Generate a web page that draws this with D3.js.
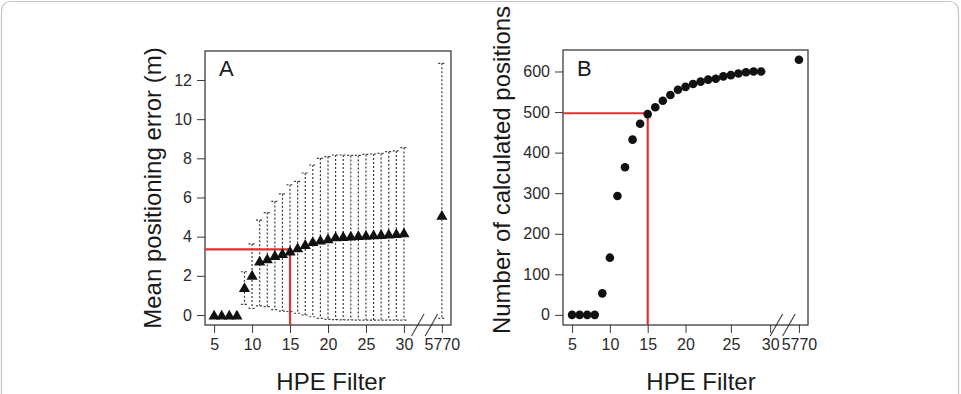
<!DOCTYPE html>
<html>
<head>
<meta charset="utf-8">
<script src="https://cdn.jsdelivr.net/npm/d3@7/dist/d3.min.js"></script>
<style>
  body { margin: 0; background: #fff; }
  svg { display: block; font-family: "Liberation Sans", Arial, Helvetica, sans-serif; }
</style>
</head>
<body>
<div id="chart"></div>
<script>
// HPE filter values (5770 = no filter, drawn after the axis break)
const hpeFilter = [5, 6, 7, 8, 9, 10, 11, 12, 13, 14, 15, 16, 17, 18, 19, 20,
  21, 22, 23, 24, 25, 26, 27, 28, 29, 30, 5770];

// Panel A: mean positioning error (m) with error bar ends
const meanError = [0, 0, 0, 0, 1.41, 2.04, 2.76, 2.88, 3.05, 3.15, 3.27, 3.44,
  3.61, 3.76, 3.83, 3.9, 4.0, 4.02, 4.04, 4.06, 4.08, 4.1, 4.12, 4.14, 4.17, 4.2, 5.1];
const errorUpper = [0, 0, 0, 0, 2.21, 3.63, 4.84, 5.23, 5.8, 6.19, 6.65, 6.82,
  7.25, 7.66, 8.0, 8.09, 8.17, 8.17, 8.15, 8.15, 8.2, 8.22, 8.25, 8.34, 8.38, 8.55, 12.85];
const errorLower = [0, 0, 0, 0, 0.54, 0.34, 0.47, 0.43, 0.28, 0.2, 0.18, 0.09,
  0.0, -0.09, -0.17, -0.22, -0.24, -0.25, -0.25, -0.26, -0.26, -0.26, -0.26, -0.26, -0.26, -0.26, -0.17];

// Panel B: number of calculated positions
const positionCount = [0, 0, 0, 0, 53, 141, 293, 364, 432, 471, 495, 512, 528,
  542, 555, 562, 569, 575, 580, 582, 588, 591, 595, 598, 600, 600, 629];

// tick labels and where they sit on the (broken) x axis
const xTickLabels = ["5", "10", "15", "20", "25", "30", "5770"];
const xTickPosA = [5, 10, 15, 20, 25, 30, 35];
const xTickPosB = [5, 10, 15, 20, 26, 31.2, 35];
const yTicksA = [0, 2, 4, 6, 8, 10, 12];
const yTicksB = [0, 100, 200, 300, 400, 500, 600];

// chosen filter (red guides)
const chosenFilter = 15;
const chosenError = 3.35;
const chosenCount = 497;

const width = 961, height = 394;
const red = "#e2302d";
const axisColor = "#3a3a3a";

// 5770 is drawn at position 35 after the break
const axisPos = v => (v <= 30 ? v : 35);

const svg = d3.select("#chart").append("svg")
  .attr("width", width)
  .attr("height", height);

// outer figure frame
svg.append("rect")
  .attr("x", 1.5).attr("y", 1.5)
  .attr("width", 957).attr("height", 430)
  .attr("rx", 9)
  .attr("fill", "none")
  .attr("stroke", "#c4c4c4")
  .attr("stroke-width", 1.2);

function drawPanel(opt) {
  const x = d3.scaleLinear().domain([3.8, 36.2]).range([opt.left, opt.right]);
  const y = d3.scaleLinear().domain(opt.yDomain).range([opt.bottom, opt.top]);
  const g = svg.append("g");

  // x axis
  const xAxis = d3.axisBottom(x)
    .tickValues(opt.xTicks)
    .tickFormat((d, i) => xTickLabels[i])
    .tickSize(8)
    .tickSizeOuter(0)
    .tickPadding(6);
  const gx = g.append("g")
    .attr("transform", "translate(0," + opt.bottom + ")")
    .call(xAxis);

  // y axis
  const yAxis = d3.axisLeft(y)
    .tickValues(opt.yTicks)
    .tickSize(8)
    .tickSizeOuter(0)
    .tickPadding(5);
  const gy = g.append("g")
    .attr("transform", "translate(" + opt.left + ",0)")
    .call(yAxis);

  [gx, gy].forEach(a => {
    a.select(".domain").remove();
    a.selectAll(".tick line").attr("stroke", axisColor).attr("stroke-width", 1);
    a.selectAll(".tick text")
      .attr("fill", "#2a2a2a")
      .style("font-size", "16px")
      .style("font-family", "'Liberation Sans', Arial, sans-serif");
  });

  // axis break marks
  opt.breaks.forEach(b => {
    g.append("line")
      .attr("x1", x(b)).attr("y1", opt.bottom + 11)
      .attr("x2", x(b + 1.65)).attr("y2", opt.bottom - 11)
      .attr("stroke", axisColor).attr("stroke-width", 1.1);
  });

  // plot box
  g.append("rect")
    .attr("x", opt.left).attr("y", opt.top)
    .attr("width", opt.right - opt.left)
    .attr("height", opt.bottom - opt.top)
    .attr("fill", "none")
    .attr("stroke", "#2b2b2b")
    .attr("stroke-width", 1.2);

  // panel letter
  g.append("text")
    .attr("x", opt.left + 14).attr("y", 76)
    .style("font-size", "22px")
    .attr("fill", "#1a1a1a")
    .text(opt.letter);

  // axis titles
  g.append("text")
    .attr("x", opt.xTitleX).attr("y", 390)
    .attr("text-anchor", "middle")
    .style("font-size", "24px")
    .attr("fill", "#1a1a1a")
    .text("HPE Filter");

  g.append("text")
    .attr("transform", "translate(" + opt.yTitleX + "," + opt.yTitleY + ") rotate(-90)")
    .attr("text-anchor", "middle")
    .attr("dy", "0.35em")
    .style("font-size", "24px")
    .attr("fill", "#1a1a1a")
    .text(opt.yTitle);

  return { g, x, y };
}

// ---------- Panel A ----------
const pA = drawPanel({
  left: 205, right: 451, top: 51, bottom: 325,
  yDomain: [-0.51, 13.48],
  xTicks: xTickPosA, yTicks: yTicksA,
  breaks: [31, 32.8],
  letter: "A",
  xTitleX: 331, yTitleX: 153, yTitleY: 188,
  yTitle: "Mean positioning error (m)"
});

const capHalf = 3.6;
const bars = pA.g.append("g")
  .attr("stroke", "#3a3a3a")
  .attr("stroke-width", 1.2)
  .attr("stroke-dasharray", "2,2")
  .attr("fill", "none");

hpeFilter.forEach((h, i) => {
  if (errorUpper[i] === errorLower[i]) return;
  const cx = pA.x(axisPos(h));
  bars.append("line")
    .attr("x1", cx).attr("x2", cx)
    .attr("y1", pA.y(errorUpper[i])).attr("y2", pA.y(errorLower[i]));
  [errorUpper[i], errorLower[i]].forEach(v => {
    bars.append("line")
      .attr("x1", cx - capHalf).attr("x2", cx + capHalf)
      .attr("y1", pA.y(v)).attr("y2", pA.y(v));
  });
});

// red guide lines (A)
pA.g.append("path")
  .attr("d", "M" + 205 + "," + pA.y(chosenError) +
    "H" + pA.x(chosenFilter) + "V" + 325)
  .attr("fill", "none")
  .attr("stroke", red)
  .attr("stroke-width", 2.2);

// triangles
pA.g.append("g")
  .selectAll("path")
  .data(hpeFilter)
  .enter().append("path")
  .attr("d", "M0,-5.2L5.6,4.6L-5.6,4.6Z")
  .attr("transform", (d, i) => "translate(" + pA.x(axisPos(d)) + "," + pA.y(meanError[i]) + ")")
  .attr("fill", "#111");

// ---------- Panel B ----------
const pB = drawPanel({
  left: 563, right: 808, top: 50, bottom: 325,
  yDomain: [-25, 653],
  xTicks: xTickPosB, yTicks: yTicksB,
  breaks: [31.2, 32.85],
  letter: "B",
  xTitleX: 701, yTitleX: 502, yTitleY: 170,
  yTitle: "Number of calculated positions"
});

pB.g.append("path")
  .attr("d", "M" + 563 + "," + pB.y(chosenCount) +
    "H" + pB.x(chosenFilter) + "V" + 325)
  .attr("fill", "none")
  .attr("stroke", red)
  .attr("stroke-width", 2.2);

pB.g.append("g")
  .selectAll("circle")
  .data(hpeFilter)
  .enter().append("circle")
  .attr("cx", d => pB.x(axisPos(d)))
  .attr("cy", (d, i) => pB.y(positionCount[i]))
  .attr("r", 4.3)
  .attr("fill", "#111");
</script>
</body>
</html>
